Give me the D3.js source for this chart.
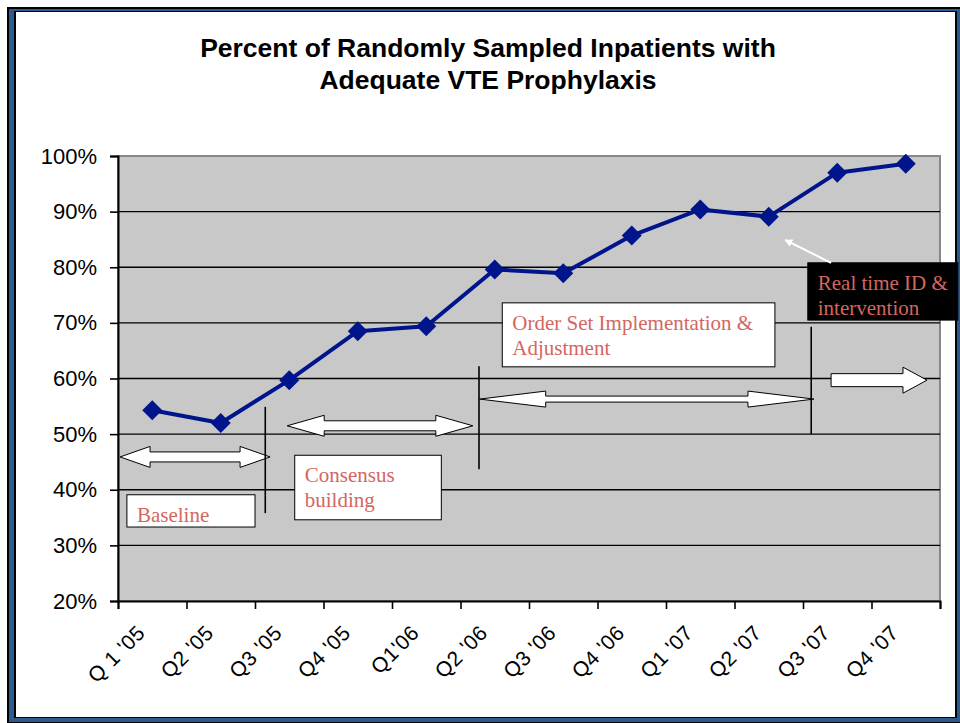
<!DOCTYPE html>
<html>
<head>
<meta charset="utf-8">
<script src="https://cdn.jsdelivr.net/npm/d3@7"></script>
<style>
  html, body { margin: 0; padding: 0; background: #fff; }
  svg { display: block; }
</style>
</head>
<body>
<svg id="chart" width="960" height="723"></svg>
<script>
// data
var quarters = ["Q 1 '05", "Q2 '05", "Q3 '05", "Q4 '05", "Q1'06", "Q2 '06",
                "Q3 '06", "Q4 '06", "Q1 '07", "Q2 '07", "Q3 '07", "Q4 '07"]
var percentAdequate = [54.3, 52.0, 59.7, 68.5, 69.4, 79.6, 78.9, 85.7, 90.4, 89.1, 97.0, 98.6]
var yTicks = [20, 30, 40, 50, 60, 70, 80, 90, 100]
var titleLines = ["Percent of Randomly Sampled Inpatients with", "Adequate VTE Prophylaxis"]

// annotations, in chart units (u = category position 0..12, p = percent)
var textBoxes = [
    { u0: 0.13, u1: 2.0, p0: 39.1, p1: 33.3, lines: ["Baseline"], dark: false },
    { u0: 2.58, u1: 4.72, p0: 46.2, p1: 34.6, lines: ["Consensus", "building"], dark: false },
    { u0: 5.61, u1: 9.59, p0: 73.6, p1: 62.1, lines: ["Order Set Implementation &", "Adjustment"], dark: false },
    { u0: 10.07, u1: 12.26, p0: 80.8, p1: 70.5, lines: ["Real time ID &", "intervention"], dark: true }
]
var phaseLines = [
    { u: 2.15, p0: 54.9, p1: 35.8 },
    { u: 5.27, p0: 62.2, p1: 43.7 },
    { u: 10.12, p0: 69.3, p1: 50.0 }
]
var doubleArrows = [
    { u0: 0.03, u1: 2.22, p: 45.9, head: 30, headH: 21, shaftH: 10 },
    { u0: 2.47, u1: 5.18, p: 51.5, head: 37, headH: 21, shaftH: 10 },
    { u0: 5.28, u1: 10.16, p: 56.3, head: 66, headH: 16, shaftH: 6 }
]

var svg = d3.select("#chart")
var W = 960, H = 723

// outer frame
svg.append("rect").attr("x", 7).attr("y", 7).attr("width", W - 7).attr("height", H - 7).attr("fill", "#000")
svg.append("rect").attr("x", 9).attr("y", 9).attr("width", W - 9).attr("height", H - 10).attr("fill", "#2a5b8e")
svg.append("rect").attr("x", 14).attr("y", 11).attr("width", 943).attr("height", 707).attr("fill", "#000")
svg.append("rect").attr("x", 16).attr("y", 12).attr("width", 939).attr("height", 705).attr("fill", "#fff")

var margin = { left: 118, right: 940, top: 156, bottom: 601 }

var x = d3.scaleBand().domain(quarters).range([margin.left, margin.right])
var u = d3.scaleLinear().domain([0, quarters.length]).range([margin.left, margin.right])
var y = d3.scaleLinear().domain([20, 100]).range([margin.bottom, margin.top])

// title
svg.append("g").selectAll("text").data(titleLines).enter().append("text")
    .attr("x", 488)
    .attr("y", function(d, i) { return 57 + i * 32 })
    .attr("text-anchor", "middle")
    .style("font-family", "Liberation Sans, Arial, sans-serif")
    .style("font-weight", "bold")
    .style("font-size", "26.5px")
    .text(function(d) { return d })

// plot area
svg.append("rect")
    .attr("x", margin.left).attr("y", margin.top)
    .attr("width", margin.right - margin.left).attr("height", margin.bottom - margin.top)
    .attr("fill", "#c8c8c8")
    .attr("stroke", "#888").attr("stroke-width", 2)

// gridlines
svg.append("g").selectAll("line").data(yTicks.filter(function(d) { return d > 20 && d < 100 }))
    .enter().append("line")
    .attr("x1", margin.left).attr("x2", margin.right)
    .attr("y1", function(d) { return y(d) }).attr("y2", function(d) { return y(d) })
    .attr("stroke", "#000").attr("stroke-width", 1.4)

// y axis
var yAxis = svg.append("g")
    .attr("transform", "translate(" + margin.left + ",0)")
    .call(d3.axisLeft(y).tickValues(yTicks).tickSize(8).tickPadding(13)
        .tickFormat(function(d) { return d + "%" }))
yAxis.select(".domain").attr("stroke-width", 2)
yAxis.selectAll(".tick line").attr("stroke-width", 1.6)
yAxis.selectAll("text")
    .style("font-family", "Liberation Sans, Arial, sans-serif")
    .style("font-size", "22px")
    .attr("fill", "#000")

// x axis
var xAxis = svg.append("g")
    .attr("transform", "translate(0," + margin.bottom + ")")
    .call(d3.axisBottom(u).tickValues(d3.range(0, quarters.length + 1)).tickSize(8).tickFormat(""))
xAxis.select(".domain").attr("stroke-width", 2)
xAxis.selectAll(".tick line").attr("stroke-width", 1.6)

svg.append("g").selectAll("text").data(quarters).enter().append("text")
    .attr("transform", function(d) {
        return "translate(" + (x(d) + x.bandwidth() / 2 - 11) + "," + (margin.bottom + 28) + ") rotate(-45)"
    })
    .attr("text-anchor", "end")
    .attr("dy", "0.35em")
    .style("font-family", "Liberation Sans, Arial, sans-serif")
    .style("font-size", "21px")
    .style("letter-spacing", "0.5px")
    .text(function(d) { return d })

// annotations
var serif = "Liberation Serif, Times New Roman, serif"
var textRed = "#d4665f"

var arrowG = svg.append("g")
arrowG.selectAll("path").data(doubleArrows).enter().append("path")
    .attr("d", function(d) {
        var a = u(d.u0), b = u(d.u1), c = y(d.p)
        var hh = d.headH / 2, sh = d.shaftH / 2
        return "M" + a + "," + c +
            "L" + (a + d.head) + "," + (c - hh) + "L" + (a + d.head) + "," + (c - sh) +
            "L" + (b - d.head) + "," + (c - sh) + "L" + (b - d.head) + "," + (c - hh) +
            "L" + b + "," + c +
            "L" + (b - d.head) + "," + (c + hh) + "L" + (b - d.head) + "," + (c + sh) +
            "L" + (a + d.head) + "," + (c + sh) + "L" + (a + d.head) + "," + (c + hh) + "Z"
    })
    .attr("fill", "#fff").attr("stroke", "#000").attr("stroke-width", 1)

// single right arrow
var ra = { u0: 10.41, u1: 11.81, p: 59.7 }
var rx0 = u(ra.u0), rx1 = u(ra.u1), ry = y(ra.p)
svg.append("path")
    .attr("d", "M" + rx0 + "," + (ry - 6.5) + "L" + (rx1 - 24) + "," + (ry - 6.5) +
        "L" + (rx1 - 24) + "," + (ry - 13) + "L" + rx1 + "," + ry +
        "L" + (rx1 - 24) + "," + (ry + 13) + "L" + (rx1 - 24) + "," + (ry + 6.5) +
        "L" + rx0 + "," + (ry + 6.5) + "Z")
    .attr("fill", "#fff").attr("stroke", "#000").attr("stroke-width", 1)

svg.append("g").selectAll("line").data(phaseLines).enter().append("line")
    .attr("x1", function(d) { return u(d.u) }).attr("x2", function(d) { return u(d.u) })
    .attr("y1", function(d) { return y(d.p0) }).attr("y2", function(d) { return y(d.p1) })
    .attr("stroke", "#000").attr("stroke-width", 1.6)

var boxes = svg.append("g").selectAll("g").data(textBoxes).enter().append("g")
boxes.append("rect")
    .attr("x", function(d) { return u(d.u0) })
    .attr("y", function(d) { return y(d.p0) })
    .attr("width", function(d) { return u(d.u1) - u(d.u0) })
    .attr("height", function(d) { return y(d.p1) - y(d.p0) })
    .attr("fill", function(d) { return d.dark ? "#000" : "#fff" })
    .attr("stroke", "#000").attr("stroke-width", 1)
boxes.each(function(d) {
    d3.select(this).selectAll("text").data(d.lines).enter().append("text")
        .attr("x", u(d.u0) + 10)
        .attr("y", function(t, i) { return y(d.p0) + 27 + i * 25 })
        .style("font-family", serif)
        .style("font-size", "21px")
        .attr("fill", textRed)
        .text(function(t) { return t })
})

// pointer from the dark box to Q2 '07
var pointer = { u0: 10.41, p0: 80.8, u1: 9.74, p1: 84.9 }
svg.append("defs").append("marker")
    .attr("id", "tip").attr("viewBox", "0 0 10 10").attr("refX", 9).attr("refY", 5)
    .attr("markerWidth", 4).attr("markerHeight", 4).attr("orient", "auto")
    .append("path").attr("d", "M0,0L10,5L0,10Z").attr("fill", "#fff")
svg.append("line")
    .attr("x1", u(pointer.u0)).attr("y1", y(pointer.p0))
    .attr("x2", u(pointer.u1)).attr("y2", y(pointer.p1))
    .attr("stroke", "#fff").attr("stroke-width", 2)
    .attr("marker-end", "url(#tip)")

// series
var line = d3.line()
    .x(function(d, i) { return x(quarters[i]) + x.bandwidth() / 2 })
    .y(function(d) { return y(d) })
svg.append("path").datum(percentAdequate)
    .attr("d", line)
    .attr("fill", "none").attr("stroke", "#00148c").attr("stroke-width", 4)
    .attr("stroke-linejoin", "round")

svg.append("g").selectAll("path").data(percentAdequate).enter().append("path")
    .attr("d", d3.symbol().type(d3.symbolSquare).size(200))
    .attr("transform", function(d, i) {
        return "translate(" + (x(quarters[i]) + x.bandwidth() / 2) + "," + y(d) + ") rotate(45)"
    })
    .attr("fill", "#00148c")
</script>
</body>
</html>
